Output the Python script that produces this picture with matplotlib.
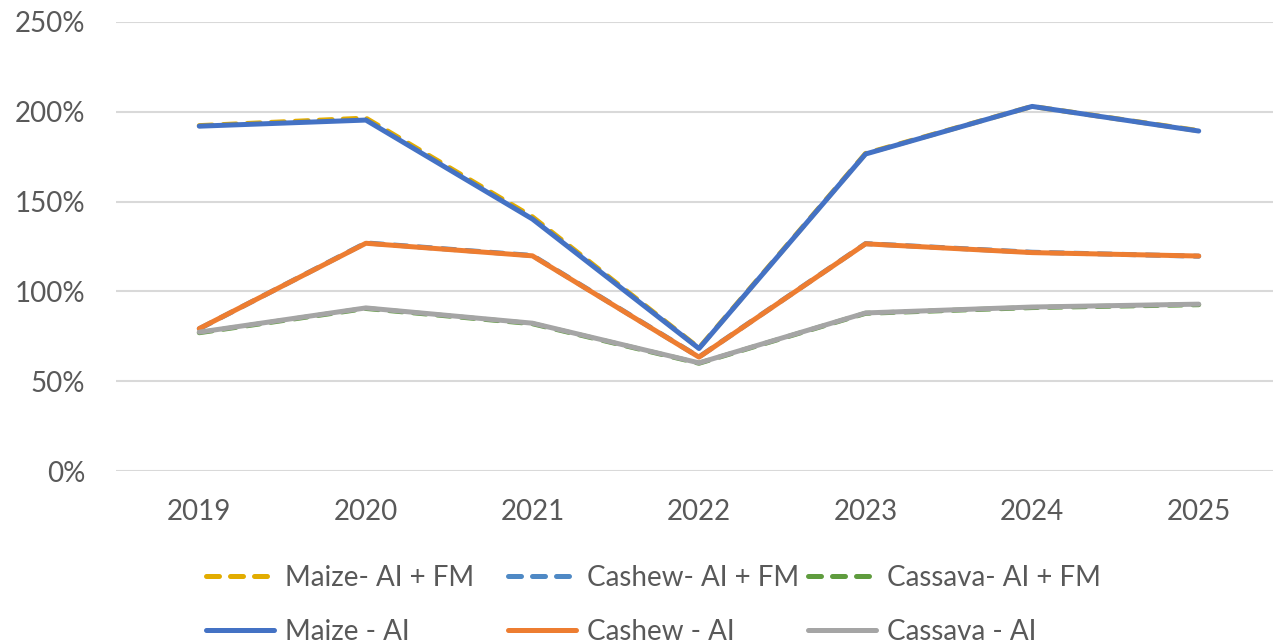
import matplotlib
matplotlib.use("Agg")
import matplotlib.pyplot as plt
from matplotlib.ticker import FuncFormatter

years = ["2019", "2020", "2021", "2022", "2023", "2024", "2025"]

maize_ai_fm = [192.3, 196.5, 141.5, 68.5, 176.8, 203.0, 189.5]
cashew_ai_fm = [79.2, 127.0, 120.0, 63.5, 126.6, 121.8, 119.6]
cassava_ai_fm = [77.0, 90.5, 82.0, 60.0, 87.8, 91.0, 92.6]
maize_ai = [192.0, 195.4, 140.3, 68.2, 176.5, 203.0, 189.3]
cashew_ai = [79.3, 126.8, 119.8, 63.4, 126.5, 121.6, 119.7]
cassava_ai = [77.3, 90.8, 82.3, 60.2, 88.0, 91.3, 92.9]

y_ticks = [0, 50, 100, 150, 200, 250]

plt.rcParams['font.family'] = ['Lato', 'DejaVu Sans']

W, H = 1273, 643
fig = plt.figure(figsize=(W / 100, H / 100), dpi=100)
left, right = 116, 1282
top, bottom = 22, 471
ax = fig.add_axes([left / W, (H - bottom) / H, (right - left) / W, (bottom - top) / H])

x = list(range(len(years)))
lw = 3.6
txt = '#595959'
fs = 20

dash_kw = dict(lw=lw, linestyle=(0, (2.6, 2.2)), dash_capstyle='round', solid_capstyle='round')
h1, = ax.plot(x, maize_ai_fm, color='#E2AC00', label='Maize- AI + FM', **dash_kw)
h2, = ax.plot(x, cashew_ai_fm, color='#4F89C5', label='Cashew- AI + FM', **dash_kw)
h3, = ax.plot(x, cassava_ai_fm, color='#5F9C3E', label='Cassava- AI + FM', **dash_kw)
h4, = ax.plot(x, maize_ai, color='#4472C4', lw=lw, solid_capstyle='round', label='Maize - AI')
h5, = ax.plot(x, cashew_ai, color='#ED7D31', lw=lw, solid_capstyle='round', label='Cashew - AI')
h6, = ax.plot(x, cassava_ai, color='#A5A5A5', lw=lw, solid_capstyle='round', label='Cassava - AI')

ax.set_xlim(-0.5, len(years) - 0.5)
ax.set_ylim(0, 250)
ax.set_xticks(x)
ax.set_xticklabels(years)
ax.set_yticks(y_ticks)
ax.yaxis.set_major_formatter(FuncFormatter(lambda v, p: f"{int(v)}%"))
ax.grid(axis='y', color='#D9D9D9', lw=1.5)
ax.set_axisbelow(True)
for s in ax.spines.values():
    s.set_visible(False)
ax.tick_params(axis='both', length=0, labelsize=fs, colors=txt)
ax.tick_params(axis='x', pad=20)
ax.tick_params(axis='y', pad=22)

cols = [([h1, h4], 206), ([h2, h5], 508), ([h3, h6], 808)]
for handles, xpx in cols:
    leg = fig.legend(handles=handles, loc='upper left', bbox_to_anchor=(xpx / W, 1 - 565 / H),
                     ncol=1, frameon=False, fontsize=fs, handlelength=2.45, handletextpad=0.4,
                     labelspacing=1.0, borderaxespad=0, borderpad=0)
    for t in leg.get_texts():
        t.set_color(txt)

fig.savefig('out.png', dpi=100)
